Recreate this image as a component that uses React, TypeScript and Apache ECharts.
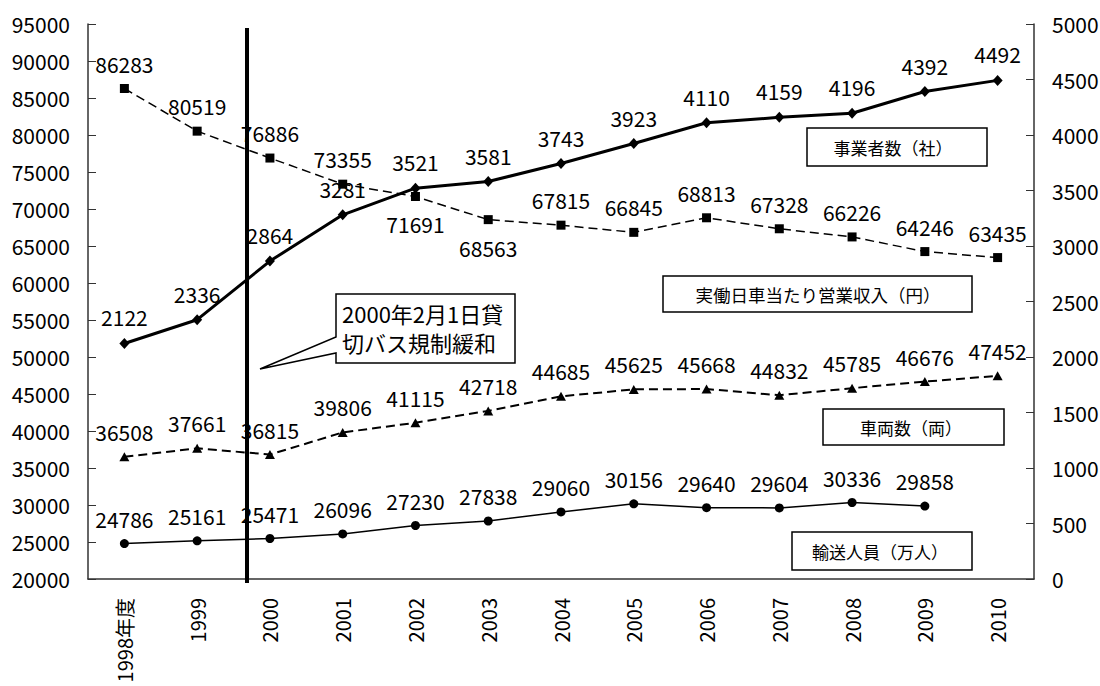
import React, { useEffect, useRef } from "react";
import * as echarts from "echarts";

const categories = ["1998年度", "1999", "2000", "2001", "2002", "2003", "2004", "2005", "2006", "2007", "2008", "2009", "2010"];
const operators = [2122, 2336, 2864, 3281, 3521, 3581, 3743, 3923, 4110, 4159, 4196, 4392, 4492];
const revenuePerCar = [86283, 80519, 76886, 73355, 71691, 68563, 67815, 66845, 68813, 67328, 66226, 64246, 63435];
const vehicles = [36508, 37661, 36815, 39806, 41115, 42718, 44685, 45625, 45668, 44832, 45785, 46676, 47452];
const passengers: (number | null)[] = [24786, 25161, 25471, 26096, 27230, 27838, 29060, 30156, 29640, 29604, 30336, 29858, null];
const revenueLabelsBelow = ["2002", "2003"];

const FONT = "'Noto Sans CJK JP', 'Noto Sans', sans-serif";
const FS = 21;

export default function App() {
  const ref = useRef<HTMLDivElement>(null);
  useEffect(() => {
    if (!ref.current) return;
    const chart = echarts.init(ref.current, null, { renderer: "svg" });
    const labelBase = { show: true, position: "top", distance: 10, color: "#000", fontSize: FS, fontFamily: FONT };
    const plain = (v: number) => String(v);
    const option: any = {
      animation: false,
      backgroundColor: "#fff",
      textStyle: { fontFamily: FONT },
      grid: { left: 88, right: 66, top: 24, bottom: 107, containLabel: false, outerBoundsMode: "none" },
      xAxis: {
        type: "category",
        data: categories,
        boundaryGap: true,
        axisLine: { lineStyle: { color: "#333", width: 1.5 } },
        axisTick: { inside: true, length: 7, lineStyle: { color: "#333" } },
        axisLabel: { rotate: 90, margin: 19, color: "#000", fontSize: 20, fontFamily: FONT },
      },
      yAxis: [
        {
          type: "value", min: 20000, max: 95000, interval: 5000,
          axisLine: { show: true, lineStyle: { color: "#333", width: 1.5 } },
          axisTick: { show: true, inside: true, length: 8, lineStyle: { color: "#333" } },
          axisLabel: { margin: 18, color: "#000", fontSize: FS, fontFamily: FONT, formatter: plain },
          splitLine: { show: false },
        },
        {
          type: "value", min: 0, max: 5000, interval: 500, position: "right",
          axisLine: { show: true, lineStyle: { color: "#333", width: 1.5 } },
          axisTick: { show: true, inside: true, length: 8, lineStyle: { color: "#333" } },
          axisLabel: { margin: 18, color: "#000", fontSize: FS, fontFamily: FONT, formatter: plain },
          splitLine: { show: false },
        },
      ],
      series: [
        {
          name: "事業者数（社）", type: "line", yAxisIndex: 1, data: operators,
          symbol: "diamond", symbolSize: [10, 11], itemStyle: { color: "#000" },
          lineStyle: { color: "#000", width: 3 }, label: labelBase, z: 5,
        },
        {
          name: "実働日車当たり営業収入（円）", type: "line", yAxisIndex: 0,
          data: revenuePerCar.map((v, i) =>
            revenueLabelsBelow.includes(categories[i])
              ? { value: v, label: { position: "bottom", distance: 13 } }
              : v),
          symbol: "rect", symbolSize: 9, itemStyle: { color: "#000" },
          lineStyle: { color: "#000", width: 1.5, type: [9, 5] }, label: labelBase, z: 4,
        },
        {
          name: "車両数（両）", type: "line", yAxisIndex: 0, data: vehicles,
          symbol: "triangle", symbolSize: [10, 9], itemStyle: { color: "#000" },
          lineStyle: { color: "#000", width: 2, type: [9, 5] }, label: labelBase, z: 4,
        },
        {
          name: "輸送人員（万人）", type: "line", yAxisIndex: 0, data: passengers,
          symbol: "circle", symbolSize: 9, itemStyle: { color: "#000" },
          lineStyle: { color: "#000", width: 1.5 }, label: labelBase, z: 4,
        },
      ],
      graphic: [
        { type: "line", shape: { x1: 247, y1: 28, x2: 247, y2: 583 }, style: { stroke: "#000", lineWidth: 4 }, z: 10 },
        {
          type: "polygon", z: 11,
          shape: { points: [[336, 294], [515, 294], [515, 363], [336, 363], [336, 353], [260, 369], [336, 337]] },
          style: { fill: "#fff", stroke: "#000", lineWidth: 1.5 },
        },
        { type: "text", x: 342, y: 313, z: 12, style: { text: "2000年2月1日貸", fill: "#000", font: `22px ${FONT}`, textVerticalAlign: "middle" } },
        { type: "text", x: 342, y: 342, z: 12, style: { text: "切バス規制緩和", fill: "#000", font: `22px ${FONT}`, textVerticalAlign: "middle" } },
        { type: "rect", z: 11, shape: { x: 807, y: 128, width: 180, height: 38 }, style: { fill: "#fff", stroke: "#000", lineWidth: 1.5 } },
        { type: "text", x: 893, y: 147, z: 12, style: { text: "事業者数（社）", fill: "#000", font: `17px ${FONT}`, textAlign: "center", textVerticalAlign: "middle" } },
        { type: "rect", z: 11, shape: { x: 663, y: 276, width: 309, height: 36 }, style: { fill: "#fff", stroke: "#000", lineWidth: 1.5 } },
        { type: "text", x: 818, y: 294, z: 12, style: { text: "実働日車当たり営業収入（円）", fill: "#000", font: `17.5px ${FONT}`, textAlign: "center", textVerticalAlign: "middle" } },
        { type: "rect", z: 11, shape: { x: 823, y: 409, width: 181, height: 36 }, style: { fill: "#fff", stroke: "#000", lineWidth: 1.5 } },
        { type: "text", x: 911, y: 427, z: 12, style: { text: "車両数（両）", fill: "#000", font: `17px ${FONT}`, textAlign: "center", textVerticalAlign: "middle" } },
        { type: "rect", z: 11, shape: { x: 792, y: 532, width: 180, height: 38 }, style: { fill: "#fff", stroke: "#000", lineWidth: 1.5 } },
        { type: "text", x: 880, y: 551, z: 12, style: { text: "輸送人員（万人）", fill: "#000", font: `17px ${FONT}`, textAlign: "center", textVerticalAlign: "middle" } },
      ],
    };
    chart.setOption(option);
    return () => chart.dispose();
  }, []);
  return <div ref={ref} style={{ width: 1100, height: 686, position: "absolute", left: 0, top: 0, background: "#fff" }} />;
}
